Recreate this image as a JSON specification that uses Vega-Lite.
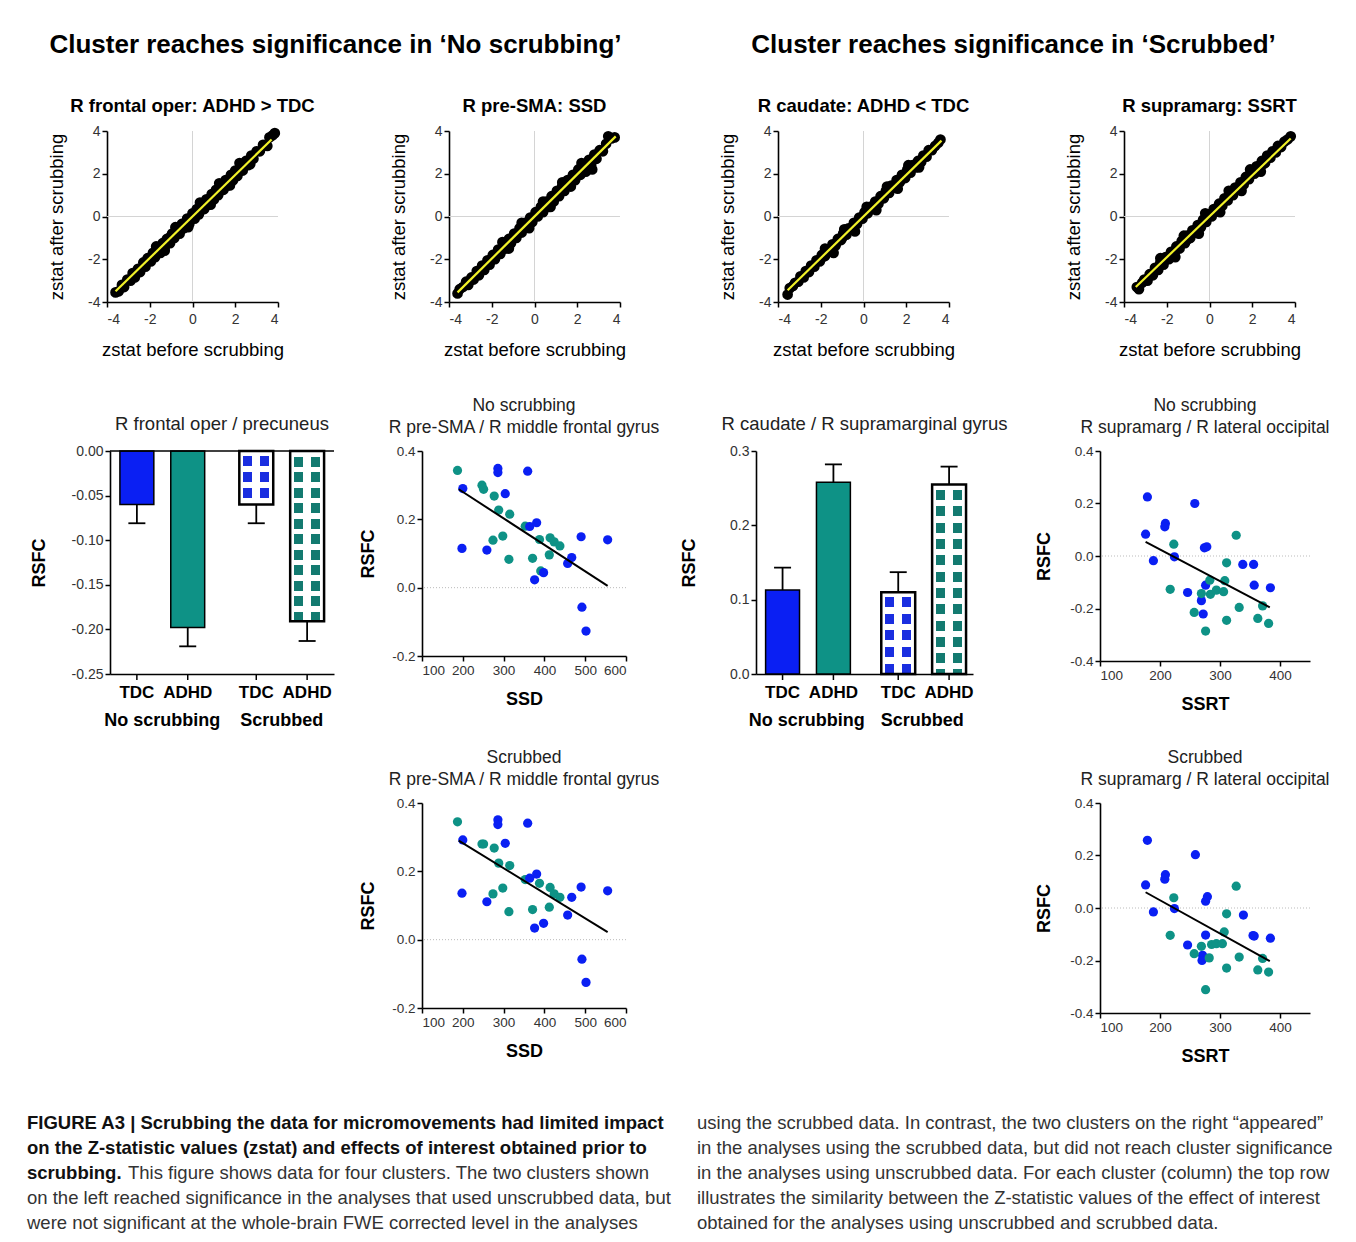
{
"$schema":"https://vega.github.io/schema/vega-lite/v6.json",
"background":"white",
"padding":{"left":27,"top":32,"right":10,"bottom":10},
"spacing":0,
"datasets":{
"z1":[{"x":-3.6,"y":-3.55},{"x":-3.45,"y":-3.5},{"x":-3.3,"y":-3.2},{"x":-3.2,"y":-3.3},{"x":-3.05,"y":-2.95},{"x":-2.9,"y":-3.0},{"x":-2.8,"y":-2.65},{"x":-2.7,"y":-2.85},{"x":-2.55,"y":-2.45},{"x":-2.45,"y":-2.6},{"x":-2.3,"y":-2.15},{"x":-2.2,"y":-2.35},{"x":-2.1,"y":-1.95},{"x":-1.95,"y":-2.1},{"x":-1.85,"y":-1.7},{"x":-1.75,"y":-1.9},{"x":-1.6,"y":-1.45},{"x":-1.5,"y":-1.7},{"x":-1.4,"y":-1.25},{"x":-1.3,"y":-1.45},{"x":-1.2,"y":-1.05},{"x":-1.05,"y":-1.25},{"x":-0.95,"y":-0.8},{"x":-0.85,"y":-1.0},{"x":-0.7,"y":-0.55},{"x":-0.6,"y":-0.8},{"x":-0.5,"y":-0.35},{"x":-0.4,"y":-0.55},{"x":-0.25,"y":-0.1},{"x":-0.15,"y":-0.35},{"x":0,"y":0.15},{"x":0.1,"y":-0.1},{"x":0.2,"y":0.35},{"x":0.3,"y":0.1},{"x":0.45,"y":0.6},{"x":0.55,"y":0.35},{"x":0.65,"y":0.8},{"x":0.75,"y":0.55},{"x":0.9,"y":1.05},{"x":1.0,"y":0.8},{"x":1.1,"y":1.25},{"x":1.2,"y":1.0},{"x":1.35,"y":1.5},{"x":1.45,"y":1.25},{"x":1.55,"y":1.7},{"x":1.65,"y":1.45},{"x":1.8,"y":1.95},{"x":1.9,"y":1.7},{"x":2.0,"y":2.15},{"x":2.1,"y":1.9},{"x":2.25,"y":2.4},{"x":2.35,"y":2.15},{"x":2.5,"y":2.6},{"x":2.6,"y":2.4},{"x":2.75,"y":2.85},{"x":2.85,"y":2.7},{"x":3.0,"y":3.05},{"x":3.15,"y":3.05},{"x":3.3,"y":3.35},{"x":3.5,"y":3.3},{"x":3.6,"y":3.7},{"x":3.75,"y":3.8},{"x":3.85,"y":3.9},{"x":-1.0,"y":-0.9},{"x":0.5,"y":0.45},{"x":1.5,"y":1.55},{"x":-2.0,"y":-2.05},{"x":2.4,"y":2.35},{"x":-0.3,"y":-0.3},{"x":-1.7,"y":-1.4},{"x":-0.8,"y":-0.5},{"x":0.35,"y":0.65},{"x":1.25,"y":1.55},{"x":2.2,"y":2.5},{"x":-1.3,"y":-1.6},{"x":-0.2,"y":-0.5},{"x":0.85,"y":0.55},{"x":1.75,"y":1.45},{"x":2.7,"y":2.45}],
"z2":[{"x":-3.6,"y":-3.6},{"x":-3.5,"y":-3.4},{"x":-3.35,"y":-3.3},{"x":-3.2,"y":-3.05},{"x":-3.1,"y":-3.2},{"x":-2.95,"y":-2.85},{"x":-2.85,"y":-2.95},{"x":-2.7,"y":-2.55},{"x":-2.6,"y":-2.75},{"x":-2.45,"y":-2.3},{"x":-2.35,"y":-2.5},{"x":-2.2,"y":-2.05},{"x":-2.1,"y":-2.25},{"x":-1.95,"y":-1.8},{"x":-1.85,"y":-2.0},{"x":-1.7,"y":-1.55},{"x":-1.6,"y":-1.75},{"x":-1.45,"y":-1.3},{"x":-1.35,"y":-1.5},{"x":-1.2,"y":-1.05},{"x":-1.1,"y":-1.25},{"x":-0.95,"y":-0.8},{"x":-0.85,"y":-1.0},{"x":-0.7,"y":-0.55},{"x":-0.6,"y":-0.75},{"x":-0.45,"y":-0.3},{"x":-0.35,"y":-0.5},{"x":-0.2,"y":-0.05},{"x":-0.1,"y":-0.25},{"x":0.05,"y":0.2},{"x":0.15,"y":0.0},{"x":0.3,"y":0.45},{"x":0.4,"y":0.2},{"x":0.55,"y":0.7},{"x":0.65,"y":0.45},{"x":0.8,"y":0.95},{"x":0.9,"y":0.7},{"x":1.05,"y":1.2},{"x":1.15,"y":0.95},{"x":1.3,"y":1.45},{"x":1.4,"y":1.2},{"x":1.55,"y":1.7},{"x":1.65,"y":1.45},{"x":1.8,"y":1.95},{"x":1.9,"y":1.7},{"x":2.05,"y":2.2},{"x":2.15,"y":1.95},{"x":2.3,"y":2.45},{"x":2.4,"y":2.2},{"x":2.55,"y":2.65},{"x":2.65,"y":2.4},{"x":2.7,"y":2.2},{"x":2.8,"y":2.9},{"x":2.9,"y":2.7},{"x":3.05,"y":3.1},{"x":3.2,"y":3.05},{"x":3.35,"y":3.4},{"x":3.45,"y":3.75},{"x":3.6,"y":3.65},{"x":3.75,"y":3.7},{"x":-0.5,"y":-0.5},{"x":0.6,"y":0.6},{"x":1.6,"y":1.6},{"x":-1.6,"y":-1.6},{"x":-2.6,"y":-2.6},{"x":2.5,"y":2.5},{"x":-1.5,"y":-1.2},{"x":-0.6,"y":-0.3},{"x":0.4,"y":0.7},{"x":1.3,"y":1.6},{"x":2.2,"y":2.5},{"x":-1.2,"y":-1.5},{"x":-0.25,"y":-0.55},{"x":0.75,"y":0.45},{"x":1.7,"y":1.4},{"x":2.4,"y":2.1}],
"z3":[{"x":-3.55,"y":-3.65},{"x":-3.45,"y":-3.35},{"x":-3.3,"y":-3.25},{"x":-3.2,"y":-3.1},{"x":-3.05,"y":-3.05},{"x":-2.95,"y":-2.8},{"x":-2.8,"y":-2.85},{"x":-2.7,"y":-2.55},{"x":-2.55,"y":-2.6},{"x":-2.45,"y":-2.3},{"x":-2.3,"y":-2.35},{"x":-2.2,"y":-2.05},{"x":-2.05,"y":-2.1},{"x":-1.95,"y":-1.8},{"x":-1.8,"y":-1.85},{"x":-1.7,"y":-1.55},{"x":-1.55,"y":-1.6},{"x":-1.45,"y":-1.3},{"x":-1.3,"y":-1.35},{"x":-1.2,"y":-1.05},{"x":-1.05,"y":-1.1},{"x":-0.95,"y":-0.8},{"x":-0.8,"y":-0.85},{"x":-0.7,"y":-0.55},{"x":-0.55,"y":-0.6},{"x":-0.45,"y":-0.3},{"x":-0.3,"y":-0.35},{"x":-0.2,"y":-0.05},{"x":-0.05,"y":-0.1},{"x":0.05,"y":0.2},{"x":0.2,"y":0.15},{"x":0.3,"y":0.45},{"x":0.45,"y":0.4},{"x":0.55,"y":0.7},{"x":0.7,"y":0.6},{"x":0.8,"y":0.95},{"x":0.95,"y":0.85},{"x":1.05,"y":1.2},{"x":1.2,"y":1.1},{"x":1.3,"y":1.45},{"x":1.45,"y":1.35},{"x":1.55,"y":1.7},{"x":1.7,"y":1.6},{"x":1.8,"y":1.95},{"x":1.95,"y":1.8},{"x":2.05,"y":2.2},{"x":2.2,"y":2.05},{"x":2.3,"y":2.4},{"x":2.45,"y":2.3},{"x":2.55,"y":2.6},{"x":2.7,"y":2.55},{"x":2.8,"y":2.85},{"x":2.95,"y":2.8},{"x":3.05,"y":3.1},{"x":3.2,"y":3.1},{"x":3.35,"y":3.3},{"x":3.5,"y":3.45},{"x":3.6,"y":3.6},{"x":-1.0,"y":-1.0},{"x":0.0,"y":0.05},{"x":1.0,"y":1.0},{"x":2.0,"y":2.0},{"x":-2.0,"y":-2.0},{"x":0.5,"y":0.55},{"x":-1.8,"y":-1.5},{"x":-0.9,"y":-0.6},{"x":0.15,"y":0.45},{"x":1.1,"y":1.4},{"x":2.1,"y":2.4},{"x":-1.4,"y":-1.7},{"x":-0.4,"y":-0.7},{"x":0.6,"y":0.3},{"x":1.6,"y":1.3},{"x":2.6,"y":2.3}],
"z4":[{"x":-3.4,"y":-3.3},{"x":-3.3,"y":-3.4},{"x":-3.15,"y":-3.1},{"x":-3.05,"y":-2.95},{"x":-2.9,"y":-3.0},{"x":-2.8,"y":-2.7},{"x":-2.65,"y":-2.75},{"x":-2.55,"y":-2.4},{"x":-2.4,"y":-2.5},{"x":-2.3,"y":-2.15},{"x":-2.15,"y":-2.25},{"x":-2.05,"y":-1.9},{"x":-1.9,"y":-2.0},{"x":-1.8,"y":-1.65},{"x":-1.65,"y":-1.75},{"x":-1.55,"y":-1.4},{"x":-1.4,"y":-1.5},{"x":-1.3,"y":-1.15},{"x":-1.15,"y":-1.25},{"x":-1.05,"y":-0.9},{"x":-0.9,"y":-1.0},{"x":-0.8,"y":-0.65},{"x":-0.65,"y":-0.75},{"x":-0.55,"y":-0.4},{"x":-0.4,"y":-0.5},{"x":-0.3,"y":-0.15},{"x":-0.15,"y":-0.25},{"x":-0.05,"y":0.1},{"x":0.1,"y":0.0},{"x":0.2,"y":0.35},{"x":0.35,"y":0.25},{"x":0.45,"y":0.6},{"x":0.6,"y":0.5},{"x":0.7,"y":0.85},{"x":0.85,"y":0.75},{"x":0.95,"y":1.1},{"x":1.1,"y":1.0},{"x":1.2,"y":1.35},{"x":1.35,"y":1.25},{"x":1.45,"y":1.6},{"x":1.6,"y":1.5},{"x":1.7,"y":1.85},{"x":1.85,"y":1.75},{"x":1.95,"y":2.1},{"x":2.1,"y":2.0},{"x":2.2,"y":2.35},{"x":2.35,"y":2.25},{"x":2.45,"y":2.6},{"x":2.6,"y":2.5},{"x":2.7,"y":2.85},{"x":2.85,"y":2.75},{"x":2.95,"y":3.05},{"x":3.1,"y":3.0},{"x":3.2,"y":3.3},{"x":3.35,"y":3.25},{"x":3.5,"y":3.5},{"x":3.65,"y":3.6},{"x":3.8,"y":3.75},{"x":-1.0,"y":-1.05},{"x":0.25,"y":0.2},{"x":1.5,"y":1.45},{"x":-2.2,"y":-2.2},{"x":2.5,"y":2.45},{"x":0.8,"y":0.8},{"x":-2.3,"y":-1.95},{"x":-1.2,"y":-0.9},{"x":-0.2,"y":0.15},{"x":0.9,"y":1.2},{"x":1.9,"y":2.2},{"x":-1.6,"y":-1.9},{"x":-0.5,"y":-0.8},{"x":0.5,"y":0.2},{"x":1.5,"y":1.2},{"x":2.4,"y":2.1}],
"zl1":[{"x":-3.6,"y":-3.5},{"x":3.7,"y":3.6}],
"zl2":[{"x":-3.6,"y":-3.55},{"x":3.8,"y":3.75}],
"zl3":[{"x":-3.55,"y":-3.45},{"x":3.65,"y":3.55}],
"zl4":[{"x":-3.45,"y":-3.3},{"x":3.8,"y":3.65}],
"bars1":[{"cond":"No scrubbing","grp":"TDC","mean":-0.06,"err":-0.081},{"cond":"No scrubbing","grp":"ADHD","mean":-0.198,"err":-0.219},{"cond":"Scrubbed","grp":"TDC","mean":-0.06,"err":-0.081},{"cond":"Scrubbed","grp":"ADHD","mean":-0.191,"err":-0.213}],
"bars2":[{"cond":"No scrubbing","grp":"TDC","mean":0.113,"err":0.143},{"cond":"No scrubbing","grp":"ADHD","mean":0.258,"err":0.282},{"cond":"Scrubbed","grp":"TDC","mean":0.11,"err":0.137},{"cond":"Scrubbed","grp":"ADHD","mean":0.255,"err":0.279}],
"s1":[{"x":187,"y":0.343,"g":"ADHD"},{"x":247,"y":0.3,"g":"ADHD"},{"x":251,"y":0.288,"g":"ADHD"},{"x":277,"y":0.268,"g":"ADHD"},{"x":288,"y":0.227,"g":"ADHD"},{"x":315,"y":0.215,"g":"ADHD"},{"x":274,"y":0.139,"g":"ADHD"},{"x":298,"y":0.151,"g":"ADHD"},{"x":313,"y":0.083,"g":"ADHD"},{"x":353,"y":0.18,"g":"ADHD"},{"x":371,"y":0.086,"g":"ADHD"},{"x":388,"y":0.141,"g":"ADHD"},{"x":391,"y":0.049,"g":"ADHD"},{"x":412,"y":0.096,"g":"ADHD"},{"x":414,"y":0.146,"g":"ADHD"},{"x":424,"y":0.134,"g":"ADHD"},{"x":438,"y":0.122,"g":"ADHD"},{"x":200,"y":0.29,"g":"TDC"},{"x":198,"y":0.115,"g":"TDC"},{"x":286,"y":0.349,"g":"TDC"},{"x":286,"y":0.337,"g":"TDC"},{"x":304,"y":0.275,"g":"TDC"},{"x":259,"y":0.11,"g":"TDC"},{"x":359,"y":0.341,"g":"TDC"},{"x":364,"y":0.179,"g":"TDC"},{"x":381,"y":0.19,"g":"TDC"},{"x":376,"y":0.023,"g":"TDC"},{"x":398,"y":0.044,"g":"TDC"},{"x":467,"y":0.088,"g":"TDC"},{"x":457,"y":0.071,"g":"TDC"},{"x":490,"y":0.149,"g":"TDC"},{"x":555,"y":0.14,"g":"TDC"},{"x":492,"y":-0.057,"g":"TDC"},{"x":502,"y":-0.127,"g":"TDC"}],
"s2":[{"x":187,"y":0.345,"g":"ADHD"},{"x":247,"y":0.28,"g":"ADHD"},{"x":251,"y":0.28,"g":"ADHD"},{"x":277,"y":0.268,"g":"ADHD"},{"x":288,"y":0.224,"g":"ADHD"},{"x":315,"y":0.217,"g":"ADHD"},{"x":274,"y":0.134,"g":"ADHD"},{"x":298,"y":0.151,"g":"ADHD"},{"x":313,"y":0.082,"g":"ADHD"},{"x":353,"y":0.176,"g":"ADHD"},{"x":371,"y":0.088,"g":"ADHD"},{"x":388,"y":0.165,"g":"ADHD"},{"x":412,"y":0.095,"g":"ADHD"},{"x":414,"y":0.153,"g":"ADHD"},{"x":424,"y":0.134,"g":"ADHD"},{"x":438,"y":0.124,"g":"ADHD"},{"x":200,"y":0.292,"g":"TDC"},{"x":198,"y":0.136,"g":"TDC"},{"x":286,"y":0.351,"g":"TDC"},{"x":286,"y":0.337,"g":"TDC"},{"x":304,"y":0.282,"g":"TDC"},{"x":259,"y":0.111,"g":"TDC"},{"x":359,"y":0.341,"g":"TDC"},{"x":364,"y":0.18,"g":"TDC"},{"x":381,"y":0.192,"g":"TDC"},{"x":376,"y":0.034,"g":"TDC"},{"x":398,"y":0.048,"g":"TDC"},{"x":467,"y":0.124,"g":"TDC"},{"x":457,"y":0.072,"g":"TDC"},{"x":490,"y":0.154,"g":"TDC"},{"x":555,"y":0.143,"g":"TDC"},{"x":492,"y":-0.057,"g":"TDC"},{"x":502,"y":-0.125,"g":"TDC"}],
"s3":[{"x":179,"y":0.225,"g":"TDC"},{"x":176,"y":0.083,"g":"TDC"},{"x":189,"y":-0.018,"g":"TDC"},{"x":209,"y":0.124,"g":"TDC"},{"x":208,"y":0.111,"g":"TDC"},{"x":224,"y":-0.003,"g":"TDC"},{"x":258,"y":0.2,"g":"TDC"},{"x":274,"y":0.031,"g":"TDC"},{"x":278,"y":0.035,"g":"TDC"},{"x":246,"y":-0.139,"g":"TDC"},{"x":269,"y":-0.17,"g":"TDC"},{"x":272,"y":-0.221,"g":"TDC"},{"x":276,"y":-0.111,"g":"TDC"},{"x":338,"y":-0.032,"g":"TDC"},{"x":356,"y":-0.032,"g":"TDC"},{"x":357,"y":-0.111,"g":"TDC"},{"x":384,"y":-0.121,"g":"TDC"},{"x":223,"y":0.045,"g":"ADHD"},{"x":217,"y":-0.127,"g":"ADHD"},{"x":257,"y":-0.215,"g":"ADHD"},{"x":269,"y":-0.143,"g":"ADHD"},{"x":276,"y":-0.286,"g":"ADHD"},{"x":283,"y":-0.092,"g":"ADHD"},{"x":284,"y":-0.146,"g":"ADHD"},{"x":294,"y":-0.13,"g":"ADHD"},{"x":306,"y":-0.136,"g":"ADHD"},{"x":308,"y":-0.094,"g":"ADHD"},{"x":311,"y":-0.026,"g":"ADHD"},{"x":311,"y":-0.245,"g":"ADHD"},{"x":327,"y":0.079,"g":"ADHD"},{"x":332,"y":-0.196,"g":"ADHD"},{"x":363,"y":-0.238,"g":"ADHD"},{"x":371,"y":-0.19,"g":"ADHD"},{"x":381,"y":-0.257,"g":"ADHD"}],
"s4":[{"x":179,"y":0.258,"g":"TDC"},{"x":176,"y":0.088,"g":"TDC"},{"x":189,"y":-0.015,"g":"TDC"},{"x":209,"y":0.127,"g":"TDC"},{"x":208,"y":0.11,"g":"TDC"},{"x":224,"y":-0.002,"g":"TDC"},{"x":259,"y":0.203,"g":"TDC"},{"x":276,"y":0.026,"g":"TDC"},{"x":279,"y":0.043,"g":"TDC"},{"x":246,"y":-0.141,"g":"TDC"},{"x":271,"y":-0.18,"g":"TDC"},{"x":270,"y":-0.2,"g":"TDC"},{"x":276,"y":-0.103,"g":"TDC"},{"x":339,"y":-0.027,"g":"TDC"},{"x":355,"y":-0.105,"g":"TDC"},{"x":357,"y":-0.107,"g":"TDC"},{"x":384,"y":-0.115,"g":"TDC"},{"x":223,"y":0.039,"g":"ADHD"},{"x":217,"y":-0.104,"g":"ADHD"},{"x":257,"y":-0.174,"g":"ADHD"},{"x":269,"y":-0.146,"g":"ADHD"},{"x":276,"y":-0.311,"g":"ADHD"},{"x":282,"y":-0.19,"g":"ADHD"},{"x":286,"y":-0.139,"g":"ADHD"},{"x":294,"y":-0.136,"g":"ADHD"},{"x":304,"y":-0.136,"g":"ADHD"},{"x":307,"y":-0.091,"g":"ADHD"},{"x":311,"y":-0.022,"g":"ADHD"},{"x":311,"y":-0.229,"g":"ADHD"},{"x":327,"y":0.083,"g":"ADHD"},{"x":332,"y":-0.187,"g":"ADHD"},{"x":363,"y":-0.236,"g":"ADHD"},{"x":371,"y":-0.192,"g":"ADHD"},{"x":381,"y":-0.244,"g":"ADHD"}],
"l1":[{"x":190,"y":0.288},{"x":555,"y":0.005}],
"l2":[{"x":190,"y":0.29},{"x":555,"y":0.022}],
"l3":[{"x":176,"y":0.054},{"x":383,"y":-0.196}],
"l4":[{"x":176,"y":0.06},{"x":383,"y":-0.202}]
},
"vconcat":[
{"hconcat":[
 {"width":80,"height":1,"data":{"values":[{}]},"mark":"text","encoding":{"text":{"value":""}}},
 {"width":513,"height":25,"title":{"text":"Cluster reaches significance in ‘No scrubbing’","fontSize":26,"fontWeight":"bold","anchor":"middle","dx":-28,"offset":14},"data":{"values":[{}]},"mark":"text","encoding":{"text":{"value":""}}},
 {"width":158,"height":1,"data":{"values":[{}]},"mark":"text","encoding":{"text":{"value":""}}},
 {"width":517,"height":25,"title":{"text":"Cluster reaches significance in ‘Scrubbed’","fontSize":26,"fontWeight":"bold","anchor":"middle","dx":-23,"offset":14},"data":{"values":[{}]},"mark":"text","encoding":{"text":{"value":""}}}
 ],"spacing":0,"bounds":"flush"},
{"hconcat":[
 {"width":80,"height":266,"data":{"values":[{}]},"mark":"text","encoding":{"text":{"value":""}}},
 {"width":171,"height":171,"title":{"text":"R frontal oper: ADHD > TDC","fontSize":18.5,"fontWeight":"bold","offset":8.5},
  "layer":[
   {"data":{"values":[{}]},"mark":{"type":"rule","color":"#d4d4d4","strokeWidth":1},"encoding":{"x":{"datum":0}}},
   {"data":{"values":[{}]},"mark":{"type":"rule","color":"#d4d4d4","strokeWidth":1},"encoding":{"y":{"datum":0}}},
   {"data":{"name":"z1"},"mark":{"type":"circle","size":115,"color":"#000","opacity":1},"encoding":{"x":{"field":"x","type":"quantitative","scale":{"domain":[-4,4],"nice":false},"axis":{"values":[-4,-2,0,2,4],"format":"d","title":"zstat before scrubbing","titleFontSize":18.5,"titleFontWeight":"normal","titlePadding":14,"labelFontSize":14,"labelPadding":5}},"y":{"field":"y","type":"quantitative","scale":{"domain":[-4,4],"nice":false},"axis":{"values":[-4,-2,0,2,4],"format":"d","title":"zstat after scrubbing","titleFontSize":18.5,"titleFontWeight":"normal","titlePadding":21,"labelFontSize":14}}}},
   {"data":{"name":"zl1"},"mark":{"type":"line","color":"#f0f028","strokeWidth":2.2},"encoding":{"x":{"field":"x","type":"quantitative"},"y":{"field":"y","type":"quantitative"}}}
  ]},
 {"width":171,"height":1,"data":{"values":[{}]},"mark":"text","encoding":{"text":{"value":""}}},
 {"width":171,"height":171,"title":{"text":"R pre-SMA: SSD","fontSize":18.5,"fontWeight":"bold","offset":8.5},
  "layer":[
   {"data":{"values":[{}]},"mark":{"type":"rule","color":"#d4d4d4","strokeWidth":1},"encoding":{"x":{"datum":0}}},
   {"data":{"values":[{}]},"mark":{"type":"rule","color":"#d4d4d4","strokeWidth":1},"encoding":{"y":{"datum":0}}},
   {"data":{"name":"z2"},"mark":{"type":"circle","size":115,"color":"#000","opacity":1},"encoding":{"x":{"field":"x","type":"quantitative","scale":{"domain":[-4,4],"nice":false},"axis":{"values":[-4,-2,0,2,4],"format":"d","title":"zstat before scrubbing","titleFontSize":18.5,"titleFontWeight":"normal","titlePadding":14,"labelFontSize":14,"labelPadding":5}},"y":{"field":"y","type":"quantitative","scale":{"domain":[-4,4],"nice":false},"axis":{"values":[-4,-2,0,2,4],"format":"d","title":"zstat after scrubbing","titleFontSize":18.5,"titleFontWeight":"normal","titlePadding":21,"labelFontSize":14}}}},
   {"data":{"name":"zl2"},"mark":{"type":"line","color":"#f0f028","strokeWidth":2.2},"encoding":{"x":{"field":"x","type":"quantitative"},"y":{"field":"y","type":"quantitative"}}}
  ]},
 {"width":158,"height":1,"data":{"values":[{}]},"mark":"text","encoding":{"text":{"value":""}}},
 {"width":171,"height":171,"title":{"text":"R caudate: ADHD < TDC","fontSize":18.5,"fontWeight":"bold","offset":8.5},
  "layer":[
   {"data":{"values":[{}]},"mark":{"type":"rule","color":"#d4d4d4","strokeWidth":1},"encoding":{"x":{"datum":0}}},
   {"data":{"values":[{}]},"mark":{"type":"rule","color":"#d4d4d4","strokeWidth":1},"encoding":{"y":{"datum":0}}},
   {"data":{"name":"z3"},"mark":{"type":"circle","size":115,"color":"#000","opacity":1},"encoding":{"x":{"field":"x","type":"quantitative","scale":{"domain":[-4,4],"nice":false},"axis":{"values":[-4,-2,0,2,4],"format":"d","title":"zstat before scrubbing","titleFontSize":18.5,"titleFontWeight":"normal","titlePadding":14,"labelFontSize":14,"labelPadding":5}},"y":{"field":"y","type":"quantitative","scale":{"domain":[-4,4],"nice":false},"axis":{"values":[-4,-2,0,2,4],"format":"d","title":"zstat after scrubbing","titleFontSize":18.5,"titleFontWeight":"normal","titlePadding":21,"labelFontSize":14}}}},
   {"data":{"name":"zl3"},"mark":{"type":"line","color":"#f0f028","strokeWidth":2.2},"encoding":{"x":{"field":"x","type":"quantitative"},"y":{"field":"y","type":"quantitative"}}}
  ]},
 {"width":175,"height":1,"data":{"values":[{}]},"mark":"text","encoding":{"text":{"value":""}}},
 {"width":171,"height":171,"title":{"text":"R supramarg: SSRT","fontSize":18.5,"fontWeight":"bold","offset":8.5},
  "layer":[
   {"data":{"values":[{}]},"mark":{"type":"rule","color":"#d4d4d4","strokeWidth":1},"encoding":{"x":{"datum":0}}},
   {"data":{"values":[{}]},"mark":{"type":"rule","color":"#d4d4d4","strokeWidth":1},"encoding":{"y":{"datum":0}}},
   {"data":{"name":"z4"},"mark":{"type":"circle","size":115,"color":"#000","opacity":1},"encoding":{"x":{"field":"x","type":"quantitative","scale":{"domain":[-4,4],"nice":false},"axis":{"values":[-4,-2,0,2,4],"format":"d","title":"zstat before scrubbing","titleFontSize":18.5,"titleFontWeight":"normal","titlePadding":14,"labelFontSize":14,"labelPadding":5}},"y":{"field":"y","type":"quantitative","scale":{"domain":[-4,4],"nice":false},"axis":{"values":[-4,-2,0,2,4],"format":"d","title":"zstat after scrubbing","titleFontSize":18.5,"titleFontWeight":"normal","titlePadding":21,"labelFontSize":14}}}},
   {"data":{"name":"zl4"},"mark":{"type":"line","color":"#f0f028","strokeWidth":2.2},"encoding":{"x":{"field":"x","type":"quantitative"},"y":{"field":"y","type":"quantitative"}}}
  ]}
 ],"spacing":0,"bounds":"flush"},
{"hconcat":[
 {"width":83,"height":298,"data":{"values":[{}]},"mark":"text","encoding":{"text":{"value":""}}},
 {"width":224,"height":223,"title":{"text":"R frontal oper / precuneus","fontSize":18.5,"fontWeight":"normal","offset":11,"color":"#222"},
  "data":{"name":"bars1"},
  "layer":[
   {"encoding":{"x":{"field":"cond","type":"nominal","scale":{"domain":["No scrubbing","Scrubbed"],"paddingInner":0.29,"paddingOuter":0.083},"axis":{"title":null,"ticks":false,"labelAngle":0,"labelFontSize":18,"labelFontWeight":"bold","labelColor":"#000","labelPadding":37}},"xOffset":{"field":"grp","type":"nominal","scale":{"domain":["TDC","ADHD"],"paddingInner":0.333,"paddingOuter":0}}},
    "layer":[
     {"transform":[{"filter":"datum.cond == 'No scrubbing'"}],"mark":{"type":"bar","stroke":"#000","strokeWidth":1.5},"encoding":{"y":{"field":"mean","type":"quantitative","scale":{"domain":[-0.25,0],"nice":false},"axis":{"title":"RSFC","values":[-0.25,-0.2,-0.15,-0.1,-0.05,0],"format":".2f","labelFontSize":14,"titleFontSize":18,"titleFontWeight":"bold","titlePadding":23}},"color":{"field":"grp","type":"nominal","scale":{"domain":["TDC","ADHD"],"range":["#0a1ff3","#0e9286"]},"legend":null}}},
     {"transform":[{"filter":"datum.cond == 'Scrubbed' && datum.grp == 'TDC'"}],"mark":{"type":"bar","fill":{"gradient":"linear","x1":0,"y1":0,"x2":0,"y2":1,"stops":[{"offset":0,"color":"#ffffff"},{"offset":0.093,"color":"#ffffff"},{"offset":0.093,"color":"#1a2ee0"},{"offset":0.28,"color":"#1a2ee0"},{"offset":0.28,"color":"#ffffff"},{"offset":0.393,"color":"#ffffff"},{"offset":0.393,"color":"#1a2ee0"},{"offset":0.579,"color":"#1a2ee0"},{"offset":0.579,"color":"#ffffff"},{"offset":0.692,"color":"#ffffff"},{"offset":0.692,"color":"#1a2ee0"},{"offset":0.879,"color":"#1a2ee0"},{"offset":0.879,"color":"#ffffff"},{"offset":1,"color":"#ffffff"}]}},"encoding":{"y":{"field":"mean","type":"quantitative"}}},
     {"transform":[{"filter":"datum.cond == 'Scrubbed' && datum.grp == 'ADHD'"}],"mark":{"type":"bar","fill":{"gradient":"linear","x1":0,"y1":0,"x2":0,"y2":1,"stops":[{"offset":0,"color":"#ffffff"},{"offset":0.035,"color":"#ffffff"},{"offset":0.035,"color":"#137a70"},{"offset":0.091,"color":"#137a70"},{"offset":0.091,"color":"#ffffff"},{"offset":0.126,"color":"#ffffff"},{"offset":0.126,"color":"#137a70"},{"offset":0.182,"color":"#137a70"},{"offset":0.182,"color":"#ffffff"},{"offset":0.217,"color":"#ffffff"},{"offset":0.217,"color":"#137a70"},{"offset":0.273,"color":"#137a70"},{"offset":0.273,"color":"#ffffff"},{"offset":0.308,"color":"#ffffff"},{"offset":0.308,"color":"#137a70"},{"offset":0.364,"color":"#137a70"},{"offset":0.364,"color":"#ffffff"},{"offset":0.399,"color":"#ffffff"},{"offset":0.399,"color":"#137a70"},{"offset":0.455,"color":"#137a70"},{"offset":0.455,"color":"#ffffff"},{"offset":0.49,"color":"#ffffff"},{"offset":0.49,"color":"#137a70"},{"offset":0.546,"color":"#137a70"},{"offset":0.546,"color":"#ffffff"},{"offset":0.581,"color":"#ffffff"},{"offset":0.581,"color":"#137a70"},{"offset":0.637,"color":"#137a70"},{"offset":0.637,"color":"#ffffff"},{"offset":0.672,"color":"#ffffff"},{"offset":0.672,"color":"#137a70"},{"offset":0.728,"color":"#137a70"},{"offset":0.728,"color":"#ffffff"},{"offset":0.763,"color":"#ffffff"},{"offset":0.763,"color":"#137a70"},{"offset":0.819,"color":"#137a70"},{"offset":0.819,"color":"#ffffff"},{"offset":0.854,"color":"#ffffff"},{"offset":0.854,"color":"#137a70"},{"offset":0.91,"color":"#137a70"},{"offset":0.91,"color":"#ffffff"},{"offset":0.945,"color":"#ffffff"},{"offset":0.945,"color":"#137a70"},{"offset":1,"color":"#137a70"}]}},"encoding":{"y":{"field":"mean","type":"quantitative"}}},
     {"transform":[{"filter":"datum.cond == 'Scrubbed'"}],"mark":{"type":"bar","stroke":"#000","strokeWidth":2.5,"fill":{"gradient":"linear","x1":0,"y1":0,"x2":1,"y2":0,"stops":[{"offset":0,"color":"#ffffff"},{"offset":0.12,"color":"#ffffff"},{"offset":0.12,"color":"rgba(255,255,255,0)"},{"offset":0.38,"color":"rgba(255,255,255,0)"},{"offset":0.38,"color":"#ffffff"},{"offset":0.62,"color":"#ffffff"},{"offset":0.62,"color":"rgba(255,255,255,0)"},{"offset":0.88,"color":"rgba(255,255,255,0)"},{"offset":0.88,"color":"#ffffff"},{"offset":1,"color":"#ffffff"}]}},"encoding":{"y":{"field":"mean","type":"quantitative"}}},
     {"mark":{"type":"rule","color":"#000","strokeWidth":1.8},"encoding":{"y":{"field":"mean","type":"quantitative"},"y2":{"field":"err"}}},
     {"mark":{"type":"tick","orient":"horizontal","size":17,"thickness":1.8,"color":"#000","opacity":1},"encoding":{"y":{"field":"err","type":"quantitative"}}},
     {"mark":{"type":"tick","orient":"vertical","size":6,"thickness":1.5,"color":"#000","opacity":1,"yOffset":3},"encoding":{"y":{"datum":-0.25}}},
     {"mark":{"type":"text","baseline":"top","dy":11,"fontSize":17,"fontWeight":"bold","color":"#000"},"encoding":{"y":{"datum":-0.25},"text":{"field":"grp"}}}
    ]},
   {"data":{"values":[{}]},"mark":{"type":"rule","color":"#000","strokeWidth":1.5},"encoding":{"y":{"datum":0}}}
  ]},
 {"width":88,"height":1,"data":{"values":[{}]},"mark":"text","encoding":{"text":{"value":""}}},
 {"width":204,"height":205,"title":{"text":["No scrubbing","R pre-SMA / R middle frontal gyrus"],"fontSize":17.5,"fontWeight":"normal","lineHeight":22,"offset":7.5,"color":"#222"},
  "layer":[
   {"data":{"values":[{}]},"mark":{"type":"rule","color":"#bbbbbb","strokeDash":[1,2],"strokeWidth":1},"encoding":{"y":{"datum":0}}},
   {"data":{"name":"s1"},"mark":{"type":"circle","size":85,"opacity":1},"encoding":{"x":{"field":"x","type":"quantitative","scale":{"domain":[100,600],"nice":false},"axis":{"values":[100,200,300,400,500,600],"title":"SSD","titleFontSize":18,"titleFontWeight":"bold","titlePadding":14,"labelFontSize":13.5}},"y":{"field":"y","type":"quantitative","scale":{"domain":[-0.2,0.4],"nice":false},"axis":{"values":[-0.2,0,0.2,0.4],"format":".1f","title":"RSFC","titleFontSize":18,"titleFontWeight":"bold","titlePadding":14,"labelFontSize":13.5}},"color":{"field":"g","type":"nominal","scale":{"domain":["TDC","ADHD"],"range":["#1a2ff0","#1f9588"]},"legend":null}}},
   {"data":{"name":"l1"},"mark":{"type":"line","color":"#000","strokeWidth":2},"encoding":{"x":{"field":"x","type":"quantitative"},"y":{"field":"y","type":"quantitative"}}}
  ]},
 {"width":130,"height":1,"data":{"values":[{}]},"mark":"text","encoding":{"text":{"value":""}}},
 {"width":217,"height":223,"title":{"text":"R caudate / R supramarginal gyrus","fontSize":18.5,"fontWeight":"normal","offset":11,"color":"#222"},
  "data":{"name":"bars2"},
  "layer":[
   {"encoding":{"x":{"field":"cond","type":"nominal","scale":{"domain":["No scrubbing","Scrubbed"],"paddingInner":0.29,"paddingOuter":0.083},"axis":{"title":null,"ticks":false,"labelAngle":0,"labelFontSize":18,"labelFontWeight":"bold","labelColor":"#000","labelPadding":37}},"xOffset":{"field":"grp","type":"nominal","scale":{"domain":["TDC","ADHD"],"paddingInner":0.333,"paddingOuter":0}}},
    "layer":[
     {"transform":[{"filter":"datum.cond == 'No scrubbing'"}],"mark":{"type":"bar","stroke":"#000","strokeWidth":1.5},"encoding":{"y":{"field":"mean","type":"quantitative","scale":{"domain":[0,0.3],"nice":false},"axis":{"title":"RSFC","values":[0,0.1,0.2,0.3],"format":".1f","labelFontSize":14,"titleFontSize":18,"titleFontWeight":"bold","titlePadding":31}},"color":{"field":"grp","type":"nominal","scale":{"domain":["TDC","ADHD"],"range":["#0a1ff3","#0e9286"]},"legend":null}}},
     {"transform":[{"filter":"datum.cond == 'Scrubbed' && datum.grp == 'TDC'"}],"mark":{"type":"bar","fill":{"gradient":"linear","x1":0,"y1":0,"x2":0,"y2":1,"stops":[{"offset":0,"color":"#ffffff"},{"offset":0.061,"color":"#ffffff"},{"offset":0.061,"color":"#1a2ee0"},{"offset":0.183,"color":"#1a2ee0"},{"offset":0.183,"color":"#ffffff"},{"offset":0.264,"color":"#ffffff"},{"offset":0.264,"color":"#1a2ee0"},{"offset":0.386,"color":"#1a2ee0"},{"offset":0.386,"color":"#ffffff"},{"offset":0.467,"color":"#ffffff"},{"offset":0.467,"color":"#1a2ee0"},{"offset":0.589,"color":"#1a2ee0"},{"offset":0.589,"color":"#ffffff"},{"offset":0.67,"color":"#ffffff"},{"offset":0.67,"color":"#1a2ee0"},{"offset":0.792,"color":"#1a2ee0"},{"offset":0.792,"color":"#ffffff"},{"offset":0.873,"color":"#ffffff"},{"offset":0.873,"color":"#1a2ee0"},{"offset":0.995,"color":"#1a2ee0"},{"offset":0.995,"color":"#ffffff"},{"offset":1,"color":"#ffffff"}]}},"encoding":{"y":{"field":"mean","type":"quantitative"}}},
     {"transform":[{"filter":"datum.cond == 'Scrubbed' && datum.grp == 'ADHD'"}],"mark":{"type":"bar","fill":{"gradient":"linear","x1":0,"y1":0,"x2":0,"y2":1,"stops":[{"offset":0,"color":"#ffffff"},{"offset":0.03,"color":"#ffffff"},{"offset":0.03,"color":"#137a70"},{"offset":0.083,"color":"#137a70"},{"offset":0.083,"color":"#ffffff"},{"offset":0.116,"color":"#ffffff"},{"offset":0.116,"color":"#137a70"},{"offset":0.169,"color":"#137a70"},{"offset":0.169,"color":"#ffffff"},{"offset":0.202,"color":"#ffffff"},{"offset":0.202,"color":"#137a70"},{"offset":0.255,"color":"#137a70"},{"offset":0.255,"color":"#ffffff"},{"offset":0.288,"color":"#ffffff"},{"offset":0.288,"color":"#137a70"},{"offset":0.341,"color":"#137a70"},{"offset":0.341,"color":"#ffffff"},{"offset":0.374,"color":"#ffffff"},{"offset":0.374,"color":"#137a70"},{"offset":0.427,"color":"#137a70"},{"offset":0.427,"color":"#ffffff"},{"offset":0.46,"color":"#ffffff"},{"offset":0.46,"color":"#137a70"},{"offset":0.513,"color":"#137a70"},{"offset":0.513,"color":"#ffffff"},{"offset":0.546,"color":"#ffffff"},{"offset":0.546,"color":"#137a70"},{"offset":0.599,"color":"#137a70"},{"offset":0.599,"color":"#ffffff"},{"offset":0.632,"color":"#ffffff"},{"offset":0.632,"color":"#137a70"},{"offset":0.685,"color":"#137a70"},{"offset":0.685,"color":"#ffffff"},{"offset":0.718,"color":"#ffffff"},{"offset":0.718,"color":"#137a70"},{"offset":0.771,"color":"#137a70"},{"offset":0.771,"color":"#ffffff"},{"offset":0.804,"color":"#ffffff"},{"offset":0.804,"color":"#137a70"},{"offset":0.857,"color":"#137a70"},{"offset":0.857,"color":"#ffffff"},{"offset":0.89,"color":"#ffffff"},{"offset":0.89,"color":"#137a70"},{"offset":0.943,"color":"#137a70"},{"offset":0.943,"color":"#ffffff"},{"offset":0.976,"color":"#ffffff"},{"offset":0.976,"color":"#137a70"},{"offset":1,"color":"#137a70"}]}},"encoding":{"y":{"field":"mean","type":"quantitative"}}},
     {"transform":[{"filter":"datum.cond == 'Scrubbed'"}],"mark":{"type":"bar","stroke":"#000","strokeWidth":2.5,"fill":{"gradient":"linear","x1":0,"y1":0,"x2":1,"y2":0,"stops":[{"offset":0,"color":"#ffffff"},{"offset":0.12,"color":"#ffffff"},{"offset":0.12,"color":"rgba(255,255,255,0)"},{"offset":0.38,"color":"rgba(255,255,255,0)"},{"offset":0.38,"color":"#ffffff"},{"offset":0.62,"color":"#ffffff"},{"offset":0.62,"color":"rgba(255,255,255,0)"},{"offset":0.88,"color":"rgba(255,255,255,0)"},{"offset":0.88,"color":"#ffffff"},{"offset":1,"color":"#ffffff"}]}},"encoding":{"y":{"field":"mean","type":"quantitative"}}},
     {"mark":{"type":"rule","color":"#000","strokeWidth":1.8},"encoding":{"y":{"field":"mean","type":"quantitative"},"y2":{"field":"err"}}},
     {"mark":{"type":"tick","orient":"horizontal","size":17,"thickness":1.8,"color":"#000","opacity":1},"encoding":{"y":{"field":"err","type":"quantitative"}}},
     {"mark":{"type":"tick","orient":"vertical","size":6,"thickness":1.5,"color":"#000","opacity":1,"yOffset":3},"encoding":{"y":{"datum":0}}},
     {"mark":{"type":"text","baseline":"top","dy":11,"fontSize":17,"fontWeight":"bold","color":"#000"},"encoding":{"y":{"datum":0},"text":{"field":"grp"}}}
    ]}
  ]},
 {"width":127,"height":1,"data":{"values":[{}]},"mark":"text","encoding":{"text":{"value":""}}},
 {"width":210,"height":210,"title":{"text":["No scrubbing","R supramarg / R lateral occipital"],"fontSize":17.5,"fontWeight":"normal","lineHeight":22,"offset":7.5,"color":"#222"},
  "layer":[
   {"data":{"values":[{}]},"mark":{"type":"rule","color":"#bbbbbb","strokeDash":[1,2],"strokeWidth":1},"encoding":{"y":{"datum":0}}},
   {"data":{"name":"s3"},"mark":{"type":"circle","size":85,"opacity":1},"encoding":{"x":{"field":"x","type":"quantitative","scale":{"domain":[100,450],"nice":false},"axis":{"values":[100,200,300,400],"title":"SSRT","titleFontSize":18,"titleFontWeight":"bold","titlePadding":14,"labelFontSize":13.5}},"y":{"field":"y","type":"quantitative","scale":{"domain":[-0.4,0.4],"nice":false},"axis":{"values":[-0.4,-0.2,0,0.2,0.4],"format":".1f","title":"RSFC","titleFontSize":18,"titleFontWeight":"bold","titlePadding":16,"labelFontSize":13.5}},"color":{"field":"g","type":"nominal","scale":{"domain":["TDC","ADHD"],"range":["#1a2ff0","#1f9588"]},"legend":null}}},
   {"data":{"name":"l3"},"mark":{"type":"line","color":"#000","strokeWidth":2},"encoding":{"x":{"field":"x","type":"quantitative"},"y":{"field":"y","type":"quantitative"}}}
  ]}
 ],"spacing":0,"bounds":"flush"},
{"hconcat":[
 {"width":395,"height":311,"data":{"values":[{}]},"mark":"text","encoding":{"text":{"value":""}}},
 {"width":204,"height":205,"title":{"text":["Scrubbed","R pre-SMA / R middle frontal gyrus"],"fontSize":17.5,"fontWeight":"normal","lineHeight":22,"offset":7.5,"color":"#222"},
  "layer":[
   {"data":{"values":[{}]},"mark":{"type":"rule","color":"#bbbbbb","strokeDash":[1,2],"strokeWidth":1},"encoding":{"y":{"datum":0}}},
   {"data":{"name":"s2"},"mark":{"type":"circle","size":85,"opacity":1},"encoding":{"x":{"field":"x","type":"quantitative","scale":{"domain":[100,600],"nice":false},"axis":{"values":[100,200,300,400,500,600],"title":"SSD","titleFontSize":18,"titleFontWeight":"bold","titlePadding":14,"labelFontSize":13.5}},"y":{"field":"y","type":"quantitative","scale":{"domain":[-0.2,0.4],"nice":false},"axis":{"values":[-0.2,0,0.2,0.4],"format":".1f","title":"RSFC","titleFontSize":18,"titleFontWeight":"bold","titlePadding":14,"labelFontSize":13.5}},"color":{"field":"g","type":"nominal","scale":{"domain":["TDC","ADHD"],"range":["#1a2ff0","#1f9588"]},"legend":null}}},
   {"data":{"name":"l2"},"mark":{"type":"line","color":"#000","strokeWidth":2},"encoding":{"x":{"field":"x","type":"quantitative"},"y":{"field":"y","type":"quantitative"}}}
  ]},
 {"width":474,"height":1,"data":{"values":[{}]},"mark":"text","encoding":{"text":{"value":""}}},
 {"width":210,"height":210,"title":{"text":["Scrubbed","R supramarg / R lateral occipital"],"fontSize":17.5,"fontWeight":"normal","lineHeight":22,"offset":7.5,"color":"#222"},
  "layer":[
   {"data":{"values":[{}]},"mark":{"type":"rule","color":"#bbbbbb","strokeDash":[1,2],"strokeWidth":1},"encoding":{"y":{"datum":0}}},
   {"data":{"name":"s4"},"mark":{"type":"circle","size":85,"opacity":1},"encoding":{"x":{"field":"x","type":"quantitative","scale":{"domain":[100,450],"nice":false},"axis":{"values":[100,200,300,400],"title":"SSRT","titleFontSize":18,"titleFontWeight":"bold","titlePadding":14,"labelFontSize":13.5}},"y":{"field":"y","type":"quantitative","scale":{"domain":[-0.4,0.4],"nice":false},"axis":{"values":[-0.4,-0.2,0,0.2,0.4],"format":".1f","title":"RSFC","titleFontSize":18,"titleFontWeight":"bold","titlePadding":16,"labelFontSize":13.5}},"color":{"field":"g","type":"nominal","scale":{"domain":["TDC","ADHD"],"range":["#1a2ff0","#1f9588"]},"legend":null}}},
   {"data":{"name":"l4"},"mark":{"type":"line","color":"#000","strokeWidth":2},"encoding":{"x":{"field":"x","type":"quantitative"},"y":{"field":"y","type":"quantitative"}}}
  ]}
 ],"spacing":0,"bounds":"flush"},
{"width":670,"height":100,
 "layer":[
  {"data":{"values":[{"col":"L","line":1,"t":"FIGURE A3 | Scrubbing the data for micromovements had limited impact"},{"col":"L","line":2,"t":"on the Z-statistic values (zstat) and effects of interest obtained prior to"},{"col":"L","line":3,"t":"scrubbing."}]},
   "mark":{"type":"text","align":"left","baseline":"middle","fontSize":18.5,"fontWeight":"bold","color":"#111"},
   "encoding":{"x":{"field":"col","type":"nominal","scale":{"type":"point","domain":["L","R"],"padding":0},"axis":null},"y":{"field":"line","type":"quantitative","scale":{"domain":[1,5],"reverse":true,"nice":false,"zero":false},"axis":null},"text":{"field":"t"}}},
  {"data":{"values":[{"col":"L","line":3,"t":"This figure shows data for four clusters. The two clusters shown"}]},
   "mark":{"type":"text","align":"left","baseline":"middle","fontSize":18.5,"color":"#333","dx":101},
   "encoding":{"x":{"field":"col","type":"nominal"},"y":{"field":"line","type":"quantitative"},"text":{"field":"t"}}},
  {"data":{"values":[{"col":"L","line":4,"t":"on the left reached significance in the analyses that used unscrubbed data, but"},{"col":"L","line":5,"t":"were not significant at the whole-brain FWE corrected level in the analyses"},{"col":"R","line":1,"t":"using the scrubbed data. In contrast, the two clusters on the right “appeared”"},{"col":"R","line":2,"t":"in the analyses using the scrubbed data, but did not reach cluster significance"},{"col":"R","line":3,"t":"in the analyses using unscrubbed data. For each cluster (column) the top row"},{"col":"R","line":4,"t":"illustrates the similarity between the Z-statistic values of the effect of interest"},{"col":"R","line":5,"t":"obtained for the analyses using unscrubbed and scrubbed data."}]},
   "mark":{"type":"text","align":"left","baseline":"middle","fontSize":18.5,"color":"#333"},
   "encoding":{"x":{"field":"col","type":"nominal"},"y":{"field":"line","type":"quantitative"},"text":{"field":"t"}}}
 ]}
],
"config":{
 "font":"Liberation Sans",
 "view":{"stroke":null},
 "axis":{"domainColor":"#000","domainWidth":1.6,"tickColor":"#000","tickWidth":1.5,"tickSize":5,"labelFont":"Liberation Sans","labelColor":"#333","titleFont":"Liberation Sans","titleColor":"#000","grid":false},
 "title":{"font":"Liberation Sans","color":"#000"},
 "locale":{"number":{"decimal":".","thousands":",","grouping":[3],"currency":["$",""],"minus":"-"}}
}
}
